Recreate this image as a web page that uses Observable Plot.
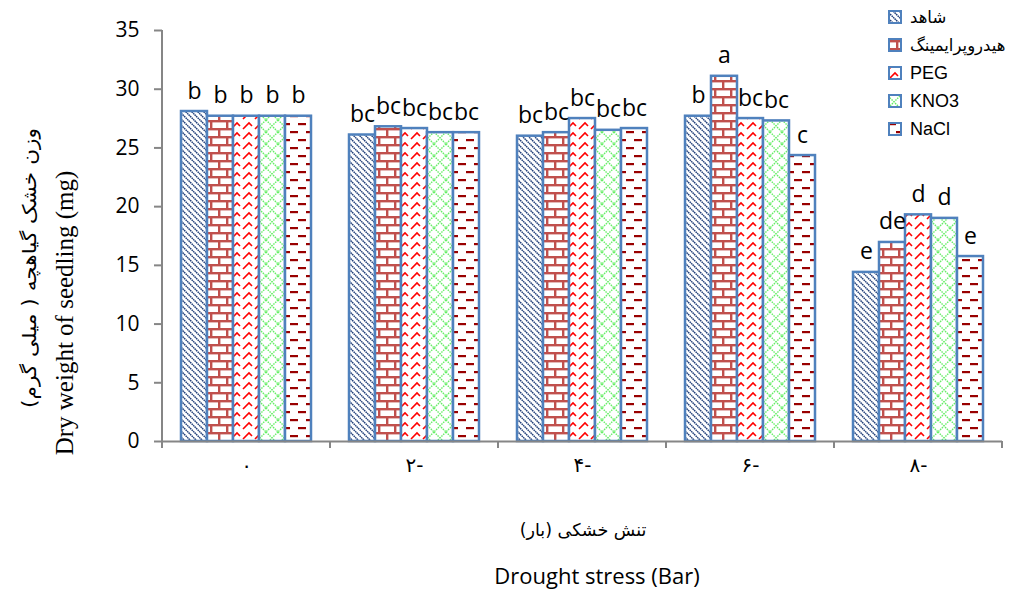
<!DOCTYPE html>
<html><head><meta charset="utf-8">
<script src="https://cdn.jsdelivr.net/npm/d3@7"></script>
<script src="https://cdn.jsdelivr.net/npm/@observablehq/plot@0.6"></script>
<style>body{margin:0;background:#fff}</style>
</head><body><div id="chart"></div>
<script>
// ---- data ----
const stress = ["0", "2", "4", "6", "8"];
const stressLabels = ["۰", "۲-", "۴-", "۶-", "۸-"];
const series = ["شاهد", "هیدروپرایمینگ", "PEG", "KNO3", "NaCl"];
const valShahed = [28.1, 26.1, 26.0, 27.7, 14.4];
const valHydro  = [27.7, 26.8, 26.3, 31.1, 16.95];
const valPEG    = [27.7, 26.65, 27.5, 27.5, 19.3];
const valKNO3   = [27.7, 26.3, 26.5, 27.3, 19.0];
const valNaCl   = [27.7, 26.3, 26.65, 24.35, 15.75];
const letShahed = ["b", "bc", "bc", "b", "e"];
const letHydro  = ["b", "bc", "bc", "a", "de"];
const letPEG    = ["b", "bc", "bc", "bc", "d"];
const letKNO3   = ["b", "bc", "bc", "bc", "d"];
const letNaCl   = ["b", "bc", "bc", "c", "e"];
const yTicks = [0, 5, 10, 15, 20, 25, 30, 35];
const yTitleFa = "وزن خشک گیاهچه ( میلی گرم)";
const yTitleEn = "Dry weight of seedling (mg)";
const xTitleFa = "تنش خشکی (بار)";
const xTitleEn = "Drought stress (Bar)";

const allVals = [valShahed, valHydro, valPEG, valKNO3, valNaCl];
const allLets = [letShahed, letHydro, letPEG, letKNO3, letNaCl];
const rows = [];
stress.forEach((s, i) => series.forEach((name, j) => {
  rows.push({stress: s, series: name, value: allVals[j][i], letter: allLets[j][i]});
}));

const patIds = series.map((_, i) => `pat${i}`);
const axisGray = "#868686";

const plot = Plot.plot({
  width: 1010, height: 592,
  marginLeft: 160, marginRight: 6, marginTop: 30, marginBottom: 151,
  style: {background: "#fff"},
  fx: {domain: stress, padding: 0, label: null},
  x: {domain: series, paddingInner: 0, paddingOuter: 0.72, axis: null},
  y: {domain: [0, 35], label: null},
  color: {type: "ordinal", domain: series, range: patIds.map(id => `url(#${id})`)},
  marks: [
    Plot.axisY({ticks: yTicks, tickSize: 8, tickPadding: 15, fontSize: 21,
      fontFamily: "Open Sans", label: null, stroke: axisGray, strokeWidth: 2, fill: "#000"}),
    Plot.axisFx({anchor: "bottom", tickSize: 0, tickPadding: 16, fontSize: 20,
      fontFamily: "DejaVu Sans", label: null,
      tickFormat: d => stressLabels[stress.indexOf(d)]}),
    Plot.barY(rows, {fx: "stress", x: "series", y: "value", fill: "series",
      stroke: "#4f81bd", strokeWidth: 2.5, inset: 0}),
    Plot.text(rows, {fx: "stress", x: "series", y: "value", text: "letter",
      lineAnchor: "bottom", dy: -13, fontSize: 23, fontFamily: "Open Sans", fill: "#000"}),
    Plot.ruleY([0], {stroke: axisGray, strokeWidth: 2})
  ]
});

const svg = d3.select(plot);
const defs = svg.insert("defs", ":first-child");
// shahed: navy downward diagonal
{
  const p = defs.append("pattern").attr("id", patIds[0]).attr("patternUnits", "userSpaceOnUse")
    .attr("width", 6).attr("height", 6);
  p.append("rect").attr("width", 6).attr("height", 6).attr("fill", "#fff");
  p.append("path").attr("d", "M-1,-1L7,7M-1,5L1,7M5,-1L7,1").attr("stroke", "#1f3d78").attr("stroke-width", 1.5)
    .attr("stroke-dasharray", "1.6,0.6");
}
// hydro: brick
{
  const p = defs.append("pattern").attr("id", patIds[1]).attr("patternUnits", "userSpaceOnUse")
    .attr("width", 16).attr("height", 16);
  p.append("rect").attr("width", 16).attr("height", 16).attr("fill", "#fff");
  const c = "#c0504d";
  p.append("rect").attr("x", 0).attr("y", 0).attr("width", 16).attr("height", 2.4).attr("fill", c);
  p.append("rect").attr("x", 0).attr("y", 8).attr("width", 16).attr("height", 2.4).attr("fill", c);
  p.append("rect").attr("x", 8).attr("y", 0).attr("width", 2.4).attr("height", 8).attr("fill", c);
  p.append("rect").attr("x", 0).attr("y", 8).attr("width", 2.4).attr("height", 8).attr("fill", c);
}
// PEG: red zigzag divots
{
  const p = defs.append("pattern").attr("id", patIds[2]).attr("patternUnits", "userSpaceOnUse")
    .attr("width", 12).attr("height", 10);
  p.append("rect").attr("width", 12).attr("height", 10).attr("fill", "#fff");
  p.append("path").attr("d", "M1,9L7,3L10,6").attr("fill", "none").attr("stroke", "#ff0000").attr("stroke-width", 1.6);
}
// KNO3: green diamond lattice
{
  const p = defs.append("pattern").attr("id", patIds[3]).attr("patternUnits", "userSpaceOnUse")
    .attr("width", 12).attr("height", 12);
  p.append("rect").attr("width", 12).attr("height", 12).attr("fill", "#fff");
  p.append("path").attr("d", "M0,0L12,12M12,0L0,12").attr("stroke", "#66ee66").attr("stroke-width", 1.4)
    .attr("stroke-dasharray", "1.5,1");
}
// NaCl: dark red dashes
{
  const p = defs.append("pattern").attr("id", patIds[4]).attr("patternUnits", "userSpaceOnUse")
    .attr("width", 16).attr("height", 16);
  p.append("rect").attr("width", 16).attr("height", 16).attr("fill", "#fff");
  p.append("rect").attr("x", 0).attr("y", 3).attr("width", 8).attr("height", 2.2).attr("fill", "#990000");
  p.append("rect").attr("x", 8).attr("y", 11).attr("width", 8).attr("height", 2.2).attr("fill", "#990000");
}

// axis lines & category boundary ticks (from the scales)
const fx = plot.scale("fx"), y = plot.scale("y");
const y0 = y.apply(0), yTop = y.apply(35);
const x0 = fx.apply(stress[0]);
const g = svg.append("g").attr("stroke", axisGray).attr("stroke-width", 2);
g.append("line").attr("x1", x0).attr("x2", x0).attr("y1", yTop).attr("y2", y0 + 7);
stress.forEach(s => {
  const xe = fx.apply(s) + fx.bandwidth;
  g.append("line").attr("x1", xe).attr("x2", xe).attr("y1", y0).attr("y2", y0 + 7);
});

// legend
const lg = svg.append("g").attr("text-anchor", "start");
series.forEach((name, i) => {
  const cy = 17 + 28 * i;
  const latin = /[A-Za-z]/.test(name);
  lg.append("rect").attr("x", 889).attr("y", cy - 6).attr("width", 12).attr("height", 12)
    .attr("fill", `url(#${patIds[i]})`).attr("stroke", "#4f81bd").attr("stroke-width", 2);
  lg.append("text").attr("x", 910).attr("y", cy).attr("dy", "0.35em").attr("text-anchor", "start")
    .attr("font-family", latin ? "Liberation Sans" : "DejaVu Sans")
    .attr("font-size", latin ? 18 : 16.5).attr("fill", "#000").text(name);
});

// titles
svg.append("text").attr("transform", "translate(36,268) rotate(-90)").attr("text-anchor", "middle")
  .attr("font-family", "DejaVu Sans").attr("font-size", 19).attr("fill", "#000")
  .attr("textLength", 280).attr("lengthAdjust", "spacingAndGlyphs").text(yTitleFa);
svg.append("text").attr("transform", "translate(73,313) rotate(-90)").attr("text-anchor", "middle")
  .attr("font-family", "Liberation Serif").attr("font-size", 25).attr("fill", "#000").text(yTitleEn);
svg.append("text").attr("x", 583).attr("y", 536).attr("text-anchor", "middle")
  .attr("font-family", "DejaVu Sans").attr("font-size", 17.5).attr("fill", "#000").text(xTitleFa);
svg.append("text").attr("x", 597).attr("y", 584).attr("text-anchor", "middle")
  .attr("font-family", "Open Sans").attr("font-size", 22).attr("fill", "#000").text(xTitleEn);

document.getElementById("chart").appendChild(plot);
</script>
</body></html>
